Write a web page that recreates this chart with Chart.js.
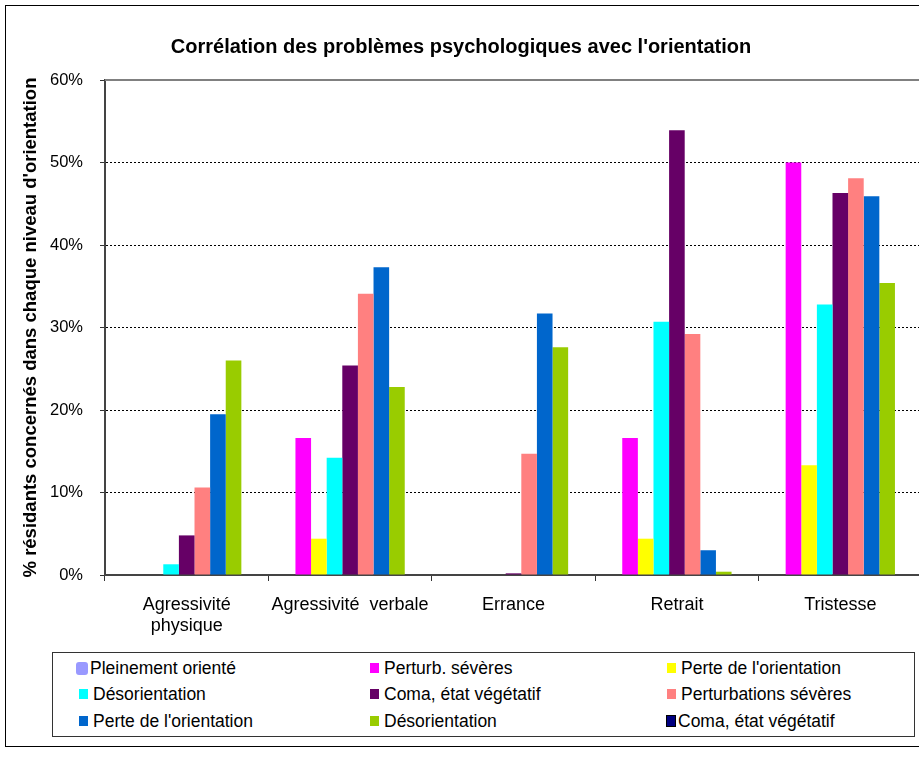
<!DOCTYPE html>
<html>
<head>
<meta charset="utf-8">
<script src="https://cdn.jsdelivr.net/npm/chart.js@4/dist/chart.umd.min.js"></script>
<style>
  html, body { margin: 0; padding: 0; background: #fff; overflow: hidden; width: 919px; height: 760px; }
  #frame { position: absolute; left: 5px; top: 5px; width: 940px; height: 742px; border: 1px solid #000; box-sizing: border-box; }
  #wrap { position: absolute; left: 0; top: 0; width: 925px; height: 760px; }
  #legend { position: absolute; left: 52px; top: 652px; width: 863px; height: 85px; border: 1px solid #333; box-sizing: border-box; background: #fff;
    font-family: "Liberation Sans", Arial, sans-serif; font-size: 17.5px; color: #000; }
  .item { position: absolute; display: flex; align-items: center; white-space: nowrap; height: 20px; }
  .mk { display: inline-block; width: 9px; height: 10px; margin-right: 5px; box-sizing: border-box; }
</style>
</head>
<body>
<div id="frame"></div>
<div id="wrap"><canvas id="c" width="925" height="760"></canvas></div>
<div id="legend"></div>
<script>
const categories = [['Agressivité', 'physique'], 'Agressivité  verbale', 'Errance', 'Retrait', 'Tristesse'];
const seriesNames = ['Pleinement orienté', 'Perturb. sévères', "Perte de l'orientation", 'Désorientation', 'Coma, état végétatif', 'Perturbations sévères', "Perte de l'orientation", 'Désorientation', 'Coma, état végétatif'];
const pleinementOriente = [0, 0, 0, 0, 0];
const perturbSeveres = [0, 16.6, 0, 16.6, 50.0];
const perteOrientation1 = [0, 4.4, 0, 4.4, 13.3];
const desorientation1 = [1.3, 14.2, 0, 30.7, 32.8];
const comaVegetatif1 = [4.8, 25.4, 0.2, 53.9, 46.3];
const perturbationsSeveres = [10.6, 34.1, 14.7, 29.2, 48.1];
const perteOrientation2 = [19.5, 37.3, 31.7, 3.0, 45.9];
const desorientation2 = [26.0, 22.8, 27.6, 0.4, 35.4];
const comaVegetatif2 = [0, 0, 0, 0, 0];
const yTicks = [0, 10, 20, 30, 40, 50, 60];

const seriesValues = [pleinementOriente, perturbSeveres, perteOrientation1, desorientation1, comaVegetatif1, perturbationsSeveres, perteOrientation2, desorientation2, comaVegetatif2];
const colors = ['#9999FF', '#FF00FF', '#FFFF00', '#00FFFF', '#660066', '#FF8080', '#0066CC', '#99CC00', '#000080'];

const FONT = '"Liberation Sans", Arial, sans-serif';

const frameTop = {
  id: 'frameTop',
  afterDraw(chart) {
    const {ctx, chartArea} = chart;
    ctx.save();
    ctx.strokeStyle = '#808080';
    ctx.lineWidth = 2;
    ctx.beginPath();
    ctx.moveTo(chartArea.left, chartArea.top);
    ctx.lineTo(chartArea.right + 5, chartArea.top);
    ctx.stroke();
    ctx.restore();
  }
};

const chart = new Chart(document.getElementById('c'), {
  type: 'bar',
  data: {
    labels: categories,
    datasets: seriesValues.map((v, i) => ({
      label: seriesNames[i],
      data: v,
      backgroundColor: colors[i],
      borderWidth: 0,
      categoryPercentage: 0.86,
      barPercentage: 1.0
    }))
  },
  options: {
    responsive: false,
    animation: false,
    layout: { padding: { left: 0, top: 0, right: 3, bottom: 115 } },
    plugins: {
      legend: { display: false },
      tooltip: { enabled: false },
      title: {
        display: true,
        text: "Corrélation des problèmes psychologiques avec l'orientation",
        color: '#000',
        font: { family: FONT, size: 20, weight: 'bold', lineHeight: 1.2 },
        padding: { top: 35, bottom: 21 }
      }
    },
    scales: {
      x: {
        afterFit(scale) { scale.height = 70; },
        grid: { display: true, drawOnChartArea: false, drawTicks: true, tickLength: 6, tickColor: '#333', offset: true },
        border: { display: true, color: '#444', width: 2 },
        ticks: { color: '#000', font: { family: FONT, size: 18, lineHeight: 1.2 }, padding: 13, maxRotation: 0, autoSkip: false }
      },
      y: {
        min: 0, max: 60,
        afterFit(scale) { scale.width = 105; },
        afterBuildTicks(scale) { scale.ticks = yTicks.map(v => ({ value: v })); },
        grid: { color: '#000', lineWidth: 1, tickLength: 5, tickColor: '#333', tickBorderDash: [] },
        border: { display: true, color: '#444', width: 2, dash: [2, 2] },
        ticks: { color: '#000', font: { family: FONT, size: 16.5 }, padding: 17, callback: v => v + '%' },
        title: {
          display: true,
          text: "% résidants concernés dans chaque niveau d'orientation",
          color: '#000',
          font: { family: FONT, size: 18.5, weight: 'bold', lineHeight: 1.2 },
          padding: { top: 20, bottom: 0 }
        }
      }
    }
  },
  plugins: [frameTop]
});

// HTML legend built from datasets
const leg = document.getElementById('legend');
const colX = [26, 317, 614];
const rowY = [5, 31, 58];
chart.data.datasets.forEach((ds, i) => {
  const it = document.createElement('div');
  it.className = 'item';
  it.style.left = colX[i % 3] + 'px';
  it.style.top = rowY[Math.floor(i / 3)] + 'px';
  const mk = document.createElement('span');
  mk.className = 'mk';
  mk.style.background = ds.backgroundColor;
  if (i === 0) { mk.style.width = '12px'; mk.style.height = '13px'; mk.style.borderRadius = '3px'; mk.style.marginRight = '2px'; mk.style.marginLeft = '-3px'; }
  if (i === 8) { mk.style.border = '1px solid #000'; mk.style.width = '10px'; mk.style.height = '12px'; mk.style.marginRight = '2px'; mk.style.marginLeft = '-1px'; }
  const tx = document.createElement('span');
  tx.textContent = ds.label;
  it.appendChild(mk);
  it.appendChild(tx);
  leg.appendChild(it);
});
</script>
</body>
</html>
